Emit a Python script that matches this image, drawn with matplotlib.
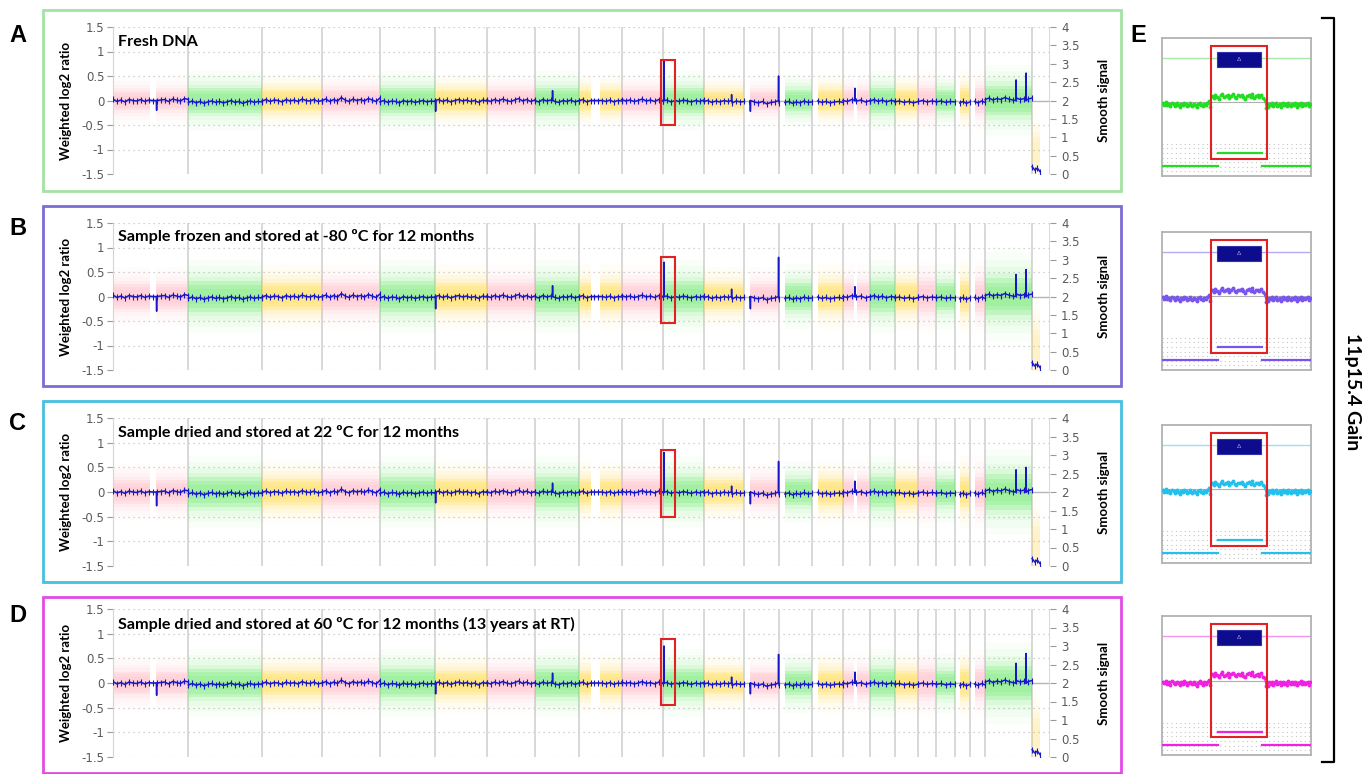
import numpy as np
import matplotlib.pyplot as plt
from matplotlib.patches import Rectangle
from matplotlib.lines import Line2D

W, H = 1365, 774

# genome layout (Mb)
chrom_names = [str(i) for i in range(1, 23)] + ["X", "Y"]
chrom_len = [249, 243, 198, 191, 181, 171, 159, 146, 141, 136, 135, 134,
             115, 107, 103, 90, 81, 78, 59, 63, 48, 51, 155, 59]
data_start = [0] * 12 + [19, 19, 20, 0, 0, 0, 0, 0, 15, 16, 0, 0]
data_end = chrom_len[:23] + [26]
inner_gaps = {0: (122, 142), 8: (40, 71), 15: (36, 46)}
band_half = [0.20, 0.25, 0.22, 0.22, 0.25, 0.22, 0.22, 0.25, 0.22, 0.22, 0.25, 0.20,
             0.20, 0.22, 0.22, 0.22, 0.25, 0.22, 0.25, 0.22, 0.25, 0.25, 0.30, 0.40]
band_mid = [0.0] * 23 + [-1.05]
band_strength = [1.0] * 23 + [0.35]

# smoothed weighted log2 trace, hundredths, read along each chromosome
trace = [
    [3, -2, 1, -3, 2, 0, -1, 2, -2, 1, 0, -1, 1, 2, -2, 3, 1, -1, 4, 2],
    [-4, -1, -5, -2, -6, -3, -1, -4, -2, -5, -3, 0, -4, -2, -6, -3, -1, -4, -2, -3],
    [-1, 2, -2, 1, 0, -3, 2, -1, 1, -2, 3, 0, -1, 2, -2, 0],
    [0, 3, -2, 2, -1, 6, 1, -2, 3, 0, 2, -1, 4, 1, -2, 5],
    [-3, 0, -4, -1, -2, -5, 0, -3, -1, -4, -2, 0, -3, -1, -2],
    [-1, 2, -2, 1, -3, 0, 2, -1, 1, -2, 0, -4, 1, -1],
    [1, -2, 2, -1, 3, 0, -2, 1, 4, -1, 2, -2, 1],
    [0, -3, 2, -1, 1, -2, -4, 0, -2, 1, -3, 0],
    [-1, 2, -3, 0, 0, 0, 0, -2, 1, -3, 0, -1],
    [2, -1, 1, -2, 0, 3, -1, 1, -2, 2, 0],
    [-1, 1, -3, 0, -2, 1, -1, -3, 0, -2, 1],
    [-2, 0, -4, -1, -3, 0, -2, -5, -1, -3, -2],
    [-6, -3, -5, -2, -7, -4, -3, -5],
    [-4, -2, -6, -3, -5, -1, -4, -3],
    [-1, -4, -2, -5, -3, -2, -4],
    [0, -2, 2, -1, 1, -3, 0],
    [-1, 2, -2, 1, -3, 0, -1],
    [-3, -1, -4, -2, -5, -2],
    [-2, 0, -3, -1, -2],
    [-3, -1, -4, -2, -3],
    [-5, -2, -6, -3],
    [-2, -5, -1, -4],
    [2, 5, 1, 4, 2, 6, 3, 1, 5, 2, 4, 3, 5],
    [-135, -142, -138, -145],
]

# narrow spikes: chromosome index, position (Mb), height per panel
spike_chr = [0, 5, 7, 10, 12, 12, 15, 11, 22, 22]
spike_mb = [144, 3, 59, 4, 113, 20, 40, 92, 102, 135]
spike_h = [
    [-0.20, -0.22, 0.20, 0.80, 0.50, -0.22, 0.25, 0.12, 0.42, 0.56],
    [-0.30, -0.25, 0.22, 0.70, 0.80, -0.25, 0.20, 0.15, 0.45, 0.55],
    [-0.28, -0.22, 0.18, 0.80, 0.62, -0.24, 0.22, 0.12, 0.45, 0.50],
    [-0.25, -0.22, 0.20, 0.75, 0.58, -0.22, 0.22, 0.12, 0.40, 0.60],
]
band_scale = [1.0, 1.25, 1.2, 1.15]
gain_box = [(0.83, -0.50), (0.80, -0.54), (0.86, -0.50), (0.90, -0.45)]

letters = ["A", "B", "C", "D"]
titles = ["Fresh DNA",
          "Sample frozen and stored at -80 \u00baC for 12 months",
          "Sample dried and stored at 22 \u00baC for 12 months",
          "Sample dried and stored at 60 \u00baC for 12 months (13 years at RT)"]
frame_col = ["#a3e2a3", "#7d6bd6", "#45c0e0", "#e04ce6"]
dot_col = ["#22dd22", "#7755ee", "#22c0ee", "#ee22e0"]
line_col = ["#a8eaa8", "#b4abf2", "#96e2f6", "#f094f0"]

# zoomed 11p15.4 probes (hundredths of log2), left / gain / right
e_left = [-2, -5, 0, -6, -3, -8, -1, -4, -7, -2, -5, -9, -3, -6, -1, -4,
          -8, -5, -2, -7, -3, -6, -10, -4, -1, -5, -8, -3, -6, -2, 2, -9]
e_mid = [14, 10, 17, 12, 8, 15, 19, 11, 13, 16, 9, 14, 18, 12, 10, 15,
         13, 17, 11, 8, 14, 16, 12, 19, 10, 13, 15, 11, 17, 9, 6, -12]
e_right = [-10, -3, -6, -2, -8, -4, -1, -7, -5, -3, -9, -2, -6, -4, -8, -1,
           -5, -7, -3, -6, -2, -9, -4, -5, -1, -7, -3, -6, -4, -2, -8, -3]

band_cols = ["#ffb3c1", "#5fe85f", "#ffd633"]

# pixel layout
ax_top = [27, 223, 418, 609]
ax_bot = [174, 370, 566, 757]
frame_y = [(10, 191), (206, 386), (401, 582), (597, 773)]
e_y = [(38, 176), (232, 370), (425, 563), (616, 755)]
title_y = [42, 237, 432, 624]
letter_y = [35, 228, 423, 615]

offs = np.concatenate([[0], np.cumsum(chrom_len)])
total = offs[-1]

fig = plt.figure(figsize=(W / 100, H / 100), dpi=100)

for p in range(4):
    top, bot = ax_top[p], ax_bot[p]
    ax = fig.add_axes([113 / W, 1 - bot / H, 937 / W, (bot - top) / H])
    ax.set_xlim(0, total)
    ax.set_ylim(-1.5, 1.5)

    for yv in [-1.5, -1, -0.5, 0.5, 1, 1.5]:
        ax.axhline(yv, color="#c2c2c2", lw=0.9, ls=(0, (1, 3)), zorder=1)
    ax.axhline(0, color="#b5b5b5", lw=1.0, zorder=1)
    ax.vlines(offs, -1.5, 1.5, color="#d2d2d2", lw=1.2, zorder=1)

    for c in range(24):
        col = band_cols[c % 3]
        h = band_half[c] * band_scale[p]
        m = band_mid[c]
        if c in inner_gaps:
            g0, g1 = inner_gaps[c]
            segs = [(data_start[c], g0), (g1, data_end[c])]
        else:
            segs = [(data_start[c], data_end[c])]
        for s0, s1 in segs:
            xs = [offs[c] + s0, offs[c] + s1]
            for k, a in [(2.4, 0.035), (2.0, 0.045), (1.6, 0.07), (1.3, 0.1),
                         (1.0, 0.2), (0.75, 0.2), (0.5, 0.15)]:
                ax.fill_between(xs, m - h * k, m + h * k, color=col,
                                alpha=a * band_strength[c], lw=0, zorder=2)

        bx = offs[c] + np.linspace(data_start[c], data_end[c], len(trace[c]))
        by = np.array(trace[c]) / 100.0
        xs, ys = list(bx), list(by)
        for k in range(len(spike_chr)):
            if spike_chr[k] == c:
                x0 = offs[c] + spike_mb[k]
                xs += [x0 - 0.6, x0, x0 + 0.6]
                ys += [0.0, spike_h[p][k], 0.0]
        order = np.argsort(xs)
        ax.plot(np.array(xs)[order], np.array(ys)[order], color="#1717c9",
                lw=1.1, zorder=4)
        ax.plot(bx, by, ls="none", color="#1717c9", marker="|", ms=4,
                mew=0.8, zorder=4)

    hi, lo = gain_box[p]
    ax.add_patch(Rectangle((offs[10] - 7, lo), 46, hi - lo, fill=False,
                           ec="#e02222", lw=1.5, zorder=6))

    for s in ["top", "right", "bottom"]:
        ax.spines[s].set_visible(False)
    ax.spines["left"].set_color("#d5d5d5")
    ax.set_xticks([])
    ax.set_yticks([-1.5, -1, -0.5, 0, 0.5, 1, 1.5])
    ax.set_yticklabels(["-1.5", "-1", "-0.5", "0", "0.5", "1", "1.5"])
    ax.tick_params(axis="y", length=4, color="#9a9a9a", labelsize=8.5,
                   labelcolor="#5a5a5a", pad=2)
    ax.set_ylabel("Weighted log2 ratio", fontsize=9.5, fontweight="bold",
                  family="Lato")
    ax.yaxis.set_label_coords(-0.044, 0.5)

    ax2 = ax.twinx()
    ax2.set_ylim(0, 4)
    ax2.set_yticks(np.arange(0, 4.01, 0.5))
    ax2.set_yticklabels(["0", "0.5", "1", "1.5", "2", "2.5", "3", "3.5", "4"])
    for s in ["top", "right", "bottom", "left"]:
        ax2.spines[s].set_visible(False)
    ax2.tick_params(axis="y", length=4, color="#9a9a9a", labelsize=8.5,
                    labelcolor="#5a5a5a", pad=4)
    ax2.set_ylabel("Smooth signal", fontsize=9.5, fontweight="bold",
                   family="Lato")
    ax2.yaxis.set_label_coords(1.051, 0.5)

    fig.text(118 / W, 1 - title_y[p] / H, titles[p], fontsize=11.6,
             fontweight="bold", family="Lato", va="center", ha="left")
    fig.text(18 / W, 1 - letter_y[p] / H, letters[p], fontsize=17,
             fontweight="bold", family="Liberation Sans", va="center", ha="center")

    fy0, fy1 = frame_y[p]
    fig.patches.append(Rectangle((43 / W, 1 - fy1 / H), (1121 - 43) / W,
                                 (fy1 - fy0) / H, transform=fig.transFigure,
                                 fill=False, ec=frame_col[p], lw=2))

    # panel E zoom of 11p15.4
    ey0, ey1 = e_y[p]
    ex = fig.add_axes([1162 / W, 1 - ey1 / H, 149 / W, (ey1 - ey0) / H])
    ex.set_xlim(0, 10)
    ex.set_ylim(-1.6, 1.4)
    ex.set_xticks([])
    ex.set_yticks([])
    for s in ex.spines.values():
        s.set_color("#b2b2b2")
        s.set_linewidth(1.3)
    for yv in np.arange(-1.5, -0.85, 0.1):
        ex.axhline(yv, color="#c4c4c4", lw=0.8, ls=(0, (1, 3)), zorder=1)
    ex.axhline(0, color="#b0b0b0", lw=0.8, zorder=1)
    ex.axhline(0.97, color=line_col[p], lw=1.0, zorder=2)
    ex.plot([3.76, 6.71], [-1.1, -1.1], color=dot_col[p], lw=1.6, zorder=3)
    ex.plot([0, 3.76], [-1.38, -1.38], color=dot_col[p], lw=1.6, zorder=3)
    ex.plot([6.71, 10], [-1.38, -1.38], color=dot_col[p], lw=1.6, zorder=3)

    ex_x = np.concatenate([np.linspace(0.05, 3.25, len(e_left)),
                           np.linspace(3.35, 7.0, len(e_mid)),
                           np.linspace(7.1, 9.95, len(e_right))])
    ex_y = np.array(e_left + e_mid + e_right) / 100.0
    ex.plot(ex_x, ex_y, color=dot_col[p], lw=0.9, marker="o", ms=1.8,
            mec=dot_col[p], zorder=4)

    ex.add_patch(Rectangle((3.29, -1.22), 3.76, 2.44, fill=False,
                           ec="#e02222", lw=1.5, zorder=6))
    ex.add_patch(Rectangle((3.69, 0.78), 2.95, 0.32, fc="#0c0c8c",
                           ec="#3030b0", lw=0.8, zorder=5))
    ex.text(5.17, 0.94, "\u0394", color="#9a9ae0", fontsize=4.5,
            ha="center", va="center", zorder=7)

fig.text(1138 / W, 1 - 35 / H, "E", fontsize=17, fontweight="bold",
         family="Liberation Sans", va="center", ha="center")

fig.lines.append(Line2D([1322 / W, 1334 / W, 1334 / W, 1322 / W],
                        [1 - 18 / H, 1 - 18 / H, 1 - 762 / H, 1 - 762 / H],
                        transform=fig.transFigure, color="black", lw=1.6))
fig.text(1352 / W, 1 - 392 / H, "11p15.4 Gain", rotation=-90, fontsize=14,
         fontweight="bold", family="Lato", va="center", ha="center")

fig.savefig("out.png", dpi=100)
